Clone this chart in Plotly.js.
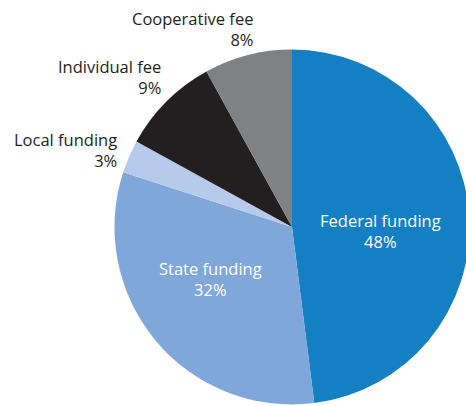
<!DOCTYPE html>
<html>
<head>
<meta charset="utf-8">
<script src="https://cdn.plot.ly/plotly-3.0.1.min.js"></script>
<style>
html,body{margin:0;padding:0;overflow:hidden;background:#fff;width:466px;height:406px;}
#chart{width:480px;height:406px;}
</style>
</head>
<body>
<div id="chart"></div>
<script>
// Data
const categories = ["Federal funding", "State funding", "Local funding", "Individual fee", "Cooperative fee"];
const shares = [48, 32, 3, 9, 8];

// Styles
const sliceColors = ["#1380c3", "#7fa7d9", "#b7caeb", "#231f20", "#808184"];
const W = 480, H = 406;
// label placement (pixel: x, centre of the two-line block)
const labelPos = [
  {x: 380, y: 231, anchor: "center", color: "#ffffff"},
  {x: 210, y: 279, anchor: "center", color: "#ffffff"},
  {x: 118, y: 149.5, anchor: "right", color: "#231f20"},
  {x: 162, y: 77, anchor: "right", color: "#231f20"},
  {x: 254, y: 29.5, anchor: "right", color: "#231f20"}
];
const labelFont = "Open Sans, Liberation Sans, sans-serif";
const labelSize = 16.5;

const trace = {
  type: "pie",
  labels: categories,
  values: shares,
  sort: false,
  direction: "clockwise",
  rotation: 0,
  textinfo: "none",
  hoverinfo: "label+percent",
  marker: {colors: sliceColors, line: {width: 0}},
  domain: {x: [114.5 / W, 469.5 / W], y: [1 - 404.5 / H, 1 - 49.5 / H]},
  showlegend: false
};

const annotations = categories.map((c, i) => {
  const p = labelPos[i];
  return {
    xref: "paper", yref: "paper",
    x: p.x / W, y: 1 - p.y / H,
    xanchor: p.anchor, yanchor: "middle",
    align: p.anchor === "right" ? "right" : "center",
    text: c + "<br>" + shares[i] + "%",
    showarrow: false, borderpad: 0,
    font: {family: labelFont, size: labelSize, color: p.color}
  };
});

const layout = {
  width: W, height: H,
  margin: {l: 0, r: 0, t: 0, b: 0},
  paper_bgcolor: "#ffffff",
  annotations: annotations
};

Plotly.newPlot("chart", [trace], layout, {displayModeBar: false, staticPlot: true});
</script>
</body>
</html>
